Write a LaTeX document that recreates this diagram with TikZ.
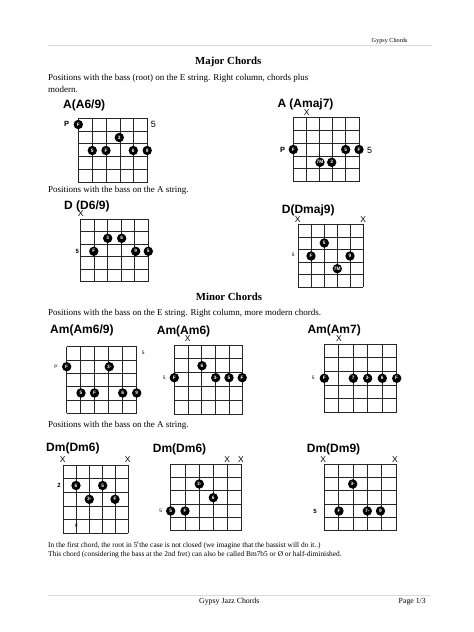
\documentclass[tikz,border=0pt]{standalone}
\usepackage{fontspec}
\setmainfont{Liberation Serif}
\setsansfont{Liberation Sans}
\tikzset{
  gridline/.style={line width=0.8pt, black!85},
  fdot/.style={circle, fill=black, text=white, inner sep=0pt, minimum size=9.4pt, font=\sffamily\bfseries\fontsize{4.8}{5}\selectfont},
  ctitle/.style={anchor=west, inner sep=0pt, font=\sffamily\bfseries\fontsize{12}{14}\selectfont},
  mute/.style={inner sep=0pt, font=\sffamily\fontsize{8.5}{9}\selectfont},
  biglab/.style={inner sep=0pt, font=\sffamily\bfseries\fontsize{7.5}{8}\selectfont},
  midlab/.style={inner sep=0pt, font=\sffamily\bfseries\fontsize{6}{7}\selectfont},
  smalllab/.style={inner sep=0pt, font=\sffamily\fontsize{4.8}{5}\selectfont},
  body/.style={anchor=west, inner sep=0pt, font=\fontsize{9}{11}\selectfont},
  note/.style={anchor=west, inner sep=0pt, font=\fontsize{7.4}{9}\selectfont},
  heading/.style={inner sep=0pt, font=\bfseries\fontsize{10.8}{12}\selectfont},
  rule/.style={line width=0.5pt, black!15}
}
\newcommand{\fretgrid}[4]{%
  \foreach \i in {0,...,5}{%
    \draw[gridline] ({#1+\i*(#3-#1)/5},#2) -- ({#1+\i*(#3-#1)/5},#4);
    \draw[gridline] (#1,{#2+\i*(#4-#2)/5}) -- (#3,{#2+\i*(#4-#2)/5});
  }}
\begin{document}
\begin{tikzpicture}[x=1pt,y=-1pt]
\fill[white] (0,0) rectangle (474,632);
\useasboundingbox (0,0) rectangle (474,632);

% header
\draw[rule] (48,45) -- (432,45);
\node[anchor=west, inner sep=0pt, font=\fontsize{6.2}{7}\selectfont] (hdr) at (371.5,40.7) {Gypsy Chords};

\node[heading] (major) at (228.3,62) {Major Chords};
\node[body] (p1a) at (48,78) {Positions with the bass (root) on the E string. Right column, chords plus};
\node[body] (p1b) at (48,89) {modern.};

% A(A6/9)
\node[ctitle] (t1) at (63,105) {A(A6/9)};
\fretgrid{78.3}{118}{147.7}{182.7}
\node[biglab] (l1a) at (66.7,124.3) {P};
\node[biglab,font=\sffamily\fontsize{9}{10}\selectfont] (l1b) at (153.5,124.3) {5};
\node[fdot] (d1a) at (78.3,124.5) {F};
\node[fdot] (d1b) at (119.3,137.5) {3};
\node[fdot] (d1c) at (92.3,150.5) {5};
\node[fdot] (d1d) at (106,150.5) {F};
\node[fdot] (d1e) at (133.3,150.5) {6};
\node[fdot] (d1f) at (147.2,150.5) {9};

% A (Amaj7)
\node[ctitle] (t2) at (277.3,104) {A (Amaj7)};
\node[mute] (x2a) at (306.7,112.8) {X};
\fretgrid{293.3}{117.3}{359}{181.7}
\node[biglab] (l2a) at (282.7,150) {P};
\node[biglab,font=\sffamily\fontsize{9}{10}\selectfont] (l2b) at (369.5,150) {5};
\node[fdot] (d2a) at (293.3,149.5) {F};
\node[fdot] (d2b) at (345.7,149.5) {5};
\node[fdot] (d2c) at (359,149.5) {F};
\node[fdot] (d2d) at (320,162.3) {7M};
\node[fdot] (d2e) at (331.7,162.3) {3};

\node[body] (p2) at (48,190.5) {Positions with the bass on the A string.};

% D (D6/9)
\node[ctitle] (t3) at (64,206) {D (D6/9)};
\node[mute] (x3a) at (80.7,214) {X};
\fretgrid{80.7}{219}{148.3}{281.7}
\node[midlab] (l3a) at (77.3,251.5) {5};
\node[fdot] (d3a) at (107.7,238.3) {3};
\node[fdot] (d3b) at (121.7,238.3) {6};
\node[fdot] (d3c) at (93.8,251.3) {F};
\node[fdot] (d3d) at (135.7,251.3) {9};
\node[fdot] (d3e) at (148.3,251.3) {5};

% D(Dmaj9)
\node[ctitle] (t4) at (281.7,210) {D(Dmaj9)};
\node[mute] (x4a) at (297.7,220) {X};
\node[mute] (x4b) at (363.3,220) {X};
\fretgrid{298.3}{224.3}{363.3}{287.3}
\node[smalllab] (l4a) at (293.3,254.5) {5};
\node[fdot] (d4a) at (324.3,243) {5};
\node[fdot] (d4b) at (311,256) {F};
\node[fdot] (d4c) at (350,256) {9};
\node[fdot] (d4d) at (337.3,268.7) {7M};

% Minor
\node[heading] (minor) at (229,296.5) {Minor Chords};
\node[body] (p3) at (48,313.3) {Positions with the bass on the E string. Right column, more modern chords.};

% Am(Am6/9)
\node[ctitle] (t5) at (50,330.7) {Am(Am6/9)};
\fretgrid{66.7}{346.7}{136.7}{413.3}
\node[smalllab] (l5a) at (56,366.7) {P};
\node[smalllab] (l5b) at (143.3,352.7) {5};
\node[fdot] (d5a) at (66.7,366.7) {F};
\node[fdot] (d5b) at (109.3,366.7) {3-};
\node[fdot] (d5c) at (81,393) {5};
\node[fdot] (d5d) at (94.5,393) {F};
\node[fdot] (d5e) at (122.7,393) {6};
\node[fdot] (d5f) at (136.7,393) {9};

% Am(Am6)
\node[ctitle] (t6) at (156.7,331) {Am(Am6)};
\node[mute] (x6a) at (187.7,339) {X};
\fretgrid{174.3}{345}{242.7}{414.3}
\node[smalllab] (l6a) at (164.3,377.7) {5};
\node[fdot] (d6a) at (202,365.7) {6};
\node[fdot] (d6b) at (174.3,377.7) {F};
\node[fdot] (d6c) at (215.7,377.7) {3-};
\node[fdot] (d6d) at (229,377.7) {5};
\node[fdot] (d6e) at (242.2,377.7) {F};

% Am(Am7)
\node[ctitle] (t7) at (307.3,330) {Am(Am7)};
\node[mute] (x7a) at (339,339) {X};
\fretgrid{324.3}{344.3}{396.7}{412}
\node[smalllab] (l7a) at (313.3,378.3) {5};
\node[fdot] (d7a) at (324.3,378.3) {F};
\node[fdot] (d7b) at (353.3,378.3) {7};
\node[fdot] (d7c) at (367.7,378.3) {3-};
\node[fdot] (d7d) at (382.3,378.3) {6};
\node[fdot] (d7e) at (396.7,378.3) {F};

\node[body] (p4) at (48,425.5) {Positions with the bass on the A string.};

% Dm(Dm6) 1
\node[ctitle] (t8) at (46,448.3) {Dm(Dm6)};
\node[mute] (x8a) at (62.7,460) {X};
\node[mute] (x8b) at (127.7,459.5) {X};
\fretgrid{63.3}{465}{128.3}{533.3}
\node[midlab] (l8a) at (59,485.3) {2};
\node[fdot] (d8a) at (76,485.5) {6};
\node[fdot] (d8b) at (102.7,485.5) {5};
\node[fdot] (d8c) at (89.3,499.3) {3-};
\node[fdot] (d8d) at (115,499.3) {F};
\node[smalllab] (f8) at (76.7,526) {F};

% Dm(Dm6) 2
\node[ctitle] (t9) at (152.7,449.3) {Dm(Dm6)};
\node[mute] (x9a) at (227.3,459.3) {X};
\node[mute] (x9b) at (241,459.3) {X};
\fretgrid{170.7}{464.3}{241.7}{530.7}
\node[smalllab] (l9a) at (160.7,511) {5};
\node[fdot] (d9a) at (199.3,484) {3-};
\node[fdot] (d9b) at (213.3,497.7) {6};
\node[fdot] (d9c) at (170.7,511) {5};
\node[fdot] (d9d) at (185,511) {F};

% Dm(Dm9)
\node[ctitle] (t10) at (306.7,449.3) {Dm(Dm9)};
\node[mute] (x10a) at (323.3,459.3) {X};
\node[mute] (x10b) at (395,459.3) {X};
\fretgrid{324.3}{464}{396}{530.7}
\node[midlab] (l10a) at (315,511) {5};
\node[fdot] (d10a) at (352.7,484) {3-};
\node[fdot] (d10b) at (339,511) {F};
\node[fdot] (d10c) at (367.3,511) {7-};
\node[fdot] (d10d) at (380.5,511) {9};

% notes
\node[note] (n1) at (48,545) {In the first chord, the root in 5\textsuperscript{t}the case is not closed (we imagine that the bassist will do it..)};
\node[note] (n2) at (48,554.3) {This chord (considering the bass at the 2nd fret) can also be called Bm7b5 or Ø or half-diminished.};

% footer
\draw[rule] (48,595.7) -- (430,595.7);
\node[inner sep=0pt, font=\fontsize{7.8}{9}\selectfont] (ftr) at (229.3,601.3) {Gypsy Jazz Chords};
\node[anchor=east, inner sep=0pt, font=\fontsize{7.8}{9}\selectfont] (pg) at (426,601.3) {Page 1/3};
\end{tikzpicture}
\end{document}
